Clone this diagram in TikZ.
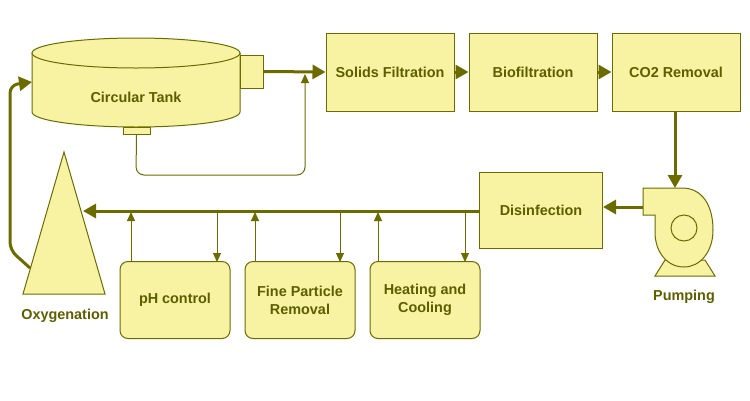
\documentclass[tikz,border=0pt]{standalone}
\usepackage{fontspec}
\setmainfont{Liberation Sans}
\usetikzlibrary{arrows.meta,positioning,shapes.geometric}
\definecolor{boxfill}{HTML}{F7F3A3}
\definecolor{olive}{HTML}{6B6B00}
\definecolor{txt}{HTML}{5E5E00}
\begin{document}
\begin{tikzpicture}[x=1pt,y=-1pt,
    boxstyle/.style={draw=olive, fill=boxfill, line width=1pt, minimum width=128pt, minimum height=78pt, font=\bfseries\Large, text=txt, align=center},
    smallbox/.style={draw=olive, fill=boxfill, line width=1pt, rounded corners=8pt, minimum width=110pt, minimum height=77pt, font=\bfseries\Large, text=txt, align=center},
    thick arrow/.style={draw=olive, line width=3pt, -{Triangle[length=13pt,width=14pt]}},
    thin arrow/.style={draw=olive, line width=1pt, -{Triangle[length=9pt,width=8pt]}},
    label/.style={font=\bfseries\Large, text=txt}]
\useasboundingbox (0,0) rectangle (750,400);
% Tank
\draw[olive, fill=boxfill, line width=1pt] (32,53) -- (32,112) arc[start angle=180, end angle=0, x radius=104, y radius=15] -- (240,53);
\draw[olive, fill=boxfill, line width=1pt] (136,53) ellipse[x radius=104, y radius=15];
\node[label] (tank) at (136,97) {Circular Tank};
\node[draw=olive, fill=boxfill, line width=1pt, minimum width=23pt, minimum height=33pt, inner sep=0pt] (outlet) at (251.5,71.5) {};
\node[draw=olive, fill=boxfill, line width=1pt, minimum width=27pt, minimum height=7pt, inner sep=0pt] (drain) at (136.5,130.5) {};
% Process boxes
\node[boxstyle] (solids) at (390,72) {Solids Filtration};
\node[boxstyle] (bio) at (533,72) {Biofiltration};
\node[boxstyle] (co2) at (676,72) {CO2 Removal};
\node[boxstyle, minimum width=123pt, minimum height=76pt] (disinf) at (541,210) {Disinfection};
\node[smallbox] (ph) at (175,300) {pH control};
\node[smallbox] (fine) at (300,300) {Fine Particle\\Removal};
\node[smallbox] (heat) at (425,300) {Heating and\\Cooling};
% Oxygenation
\draw[olive, fill=boxfill, line width=1pt] (64,152) -- (105,294) -- (23,294) -- cycle;
\coordinate (oxytip) at (83,211);
\coordinate (oxyside) at (30,268);
\node[label] (oxy) at (65,316) {Oxygenation};
% Pump
\draw[olive, fill=boxfill, line width=1pt] (665,260) -- (655,276) -- (715,276) -- (705,260) -- cycle;
\draw[olive, fill=boxfill, line width=1pt] (643,188) -- (682,188) .. controls (702,188) and (713,205) .. (713,230) .. controls (713,252) and (700,267) .. (684,267) .. controls (667,267) and (655,252) .. (655,232) -- (655,215) -- (643,215) -- cycle;
\draw[olive, fill=boxfill, line width=1pt] (684,228) circle[radius=13];
\coordinate (pumptop) at (675,188);
\coordinate (pumpout) at (643,207);
\node[label] (pump) at (684,297) {Pumping};
% Main connections
\draw[thick arrow] (outlet.east) -- (solids.west);
\draw[thick arrow] (solids.east) -- (bio.west);
\draw[thick arrow] (bio.east) -- (co2.west);
\draw[thick arrow] (co2.south -| pumptop) -- (pumptop);
\draw[thick arrow] (pumpout) -- (disinf.east |- pumpout);
\draw[thick arrow] (disinf.west |- oxytip) -- (oxytip);
\draw[thick arrow, rounded corners=8pt] (oxyside) -- (10,250) -- (10,85) -- (32,82);
\draw[thin arrow, rounded corners=8pt] (drain.south) -- (136,175) -- (305,175) -- (305,74);
% Side loops
\foreach \b/\u/\d in {ph/131/217, fine/255/340, heat/378/465}{
  \draw[thin arrow] (\u,262) -- (\u,212);
  \draw[thin arrow] (\d,212) -- (\d,262);
}
\end{tikzpicture}
\end{document}
